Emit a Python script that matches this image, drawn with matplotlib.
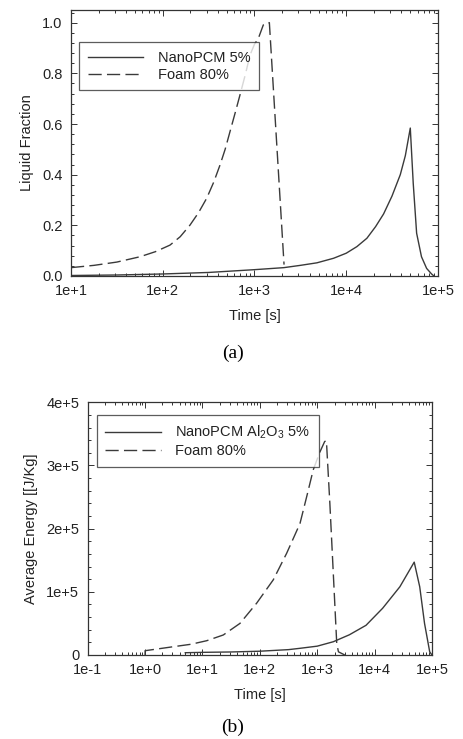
import numpy as np
import matplotlib
matplotlib.use("Agg")
import matplotlib.pyplot as plt
from matplotlib.ticker import FixedLocator, LogLocator, MultipleLocator, NullFormatter

plt.rcParams['font.family'] = ['Liberation Sans', 'DejaVu Sans']
plt.rcParams['mathtext.fontset'] = 'custom'
plt.rcParams['mathtext.rm'] = 'Liberation Sans'
plt.rcParams['mathtext.it'] = 'Liberation Sans'

# ---- (a) liquid fraction vs time (time given as log10 seconds) ----
nano_logt_a = [1.0, 1.5, 2.0, 2.5, 3.0, 3.32, 3.5, 3.68, 3.862, 4.0, 4.116, 4.225,
               4.32, 4.407, 4.498, 4.589, 4.644, 4.698, 4.73, 4.767, 4.82, 4.876,
               4.93, 4.956]
nano_lf_a = [0.002, 0.004, 0.008, 0.014, 0.025, 0.033, 0.042, 0.052, 0.070, 0.090,
             0.116, 0.149, 0.195, 0.245, 0.315, 0.400, 0.475, 0.584, 0.366, 0.169,
             0.076, 0.030, 0.008, 0.0]

foam_logt_a = [1.0, 1.25, 1.5, 1.752, 1.92, 2.079, 2.19, 2.297, 2.39, 2.479, 2.555,
               2.624, 2.68, 2.733, 2.79, 2.842, 2.90, 2.951, 3.0, 3.042, 3.096, 3.133,
               3.162, 3.322]
foam_lf_a = [0.033, 0.042, 0.055, 0.076, 0.096, 0.122, 0.155, 0.201, 0.250, 0.307,
             0.370, 0.438, 0.500, 0.570, 0.645, 0.715, 0.795, 0.872, 0.915, 0.938,
             0.991, 1.000, 1.000, 0.045]

xticks_a = [1e1, 1e2, 1e3, 1e4, 1e5]
xticklabels_a = ["1e+1", "1e+2", "1e+3", "1e+4", "1e+5"]
yticks_a = [0.0, 0.2, 0.4, 0.6, 0.8, 1.0]
yticklabels_a = ["0.0", "0.2", "0.4", "0.6", "0.8", "1.0"]

# ---- (b) average energy vs time (time given as log10 seconds) ----
nano_logt_b = [0.70, 1.0, 1.5, 2.0, 2.5, 2.70, 3.0, 3.28, 3.56, 3.85, 4.14, 4.44,
               4.69, 4.786, 4.87, 4.96, 5.0]
nano_e_b = [3.6e3, 4.2e3, 4.8e3, 6.0e3, 8.5e3, 1.06e4, 1.4e4, 2.1e4, 3.2e4, 4.7e4,
            7.4e4, 1.08e5, 1.47e5, 1.08e5, 5.0e4, 5.0e3, 0.0]

foam_logt_b = [0.0, 0.0, 0.49, 0.8, 1.073, 1.363, 1.653, 1.944, 2.234, 2.467, 2.699,
               2.82, 2.93, 3.04, 3.13, 3.16, 3.22, 3.34, 3.37, 3.48]
foam_e_b = [0.0, 6.8e3, 1.31e4, 1.7e4, 2.26e4, 3.17e4, 5.0e4, 8.2e4, 1.19e5, 1.61e5,
            2.08e5, 2.52e5, 2.93e5, 3.2e5, 3.38e5, 3.39e5, 2.4e5, 1.8e4, 5.0e3, 0.0]

xticks_b = [1e-1, 1e0, 1e1, 1e2, 1e3, 1e4, 1e5]
xticklabels_b = ["1e-1", "1e+0", "1e+1", "1e+2", "1e+3", "1e+4", "1e+5"]
yticks_b = [0, 1e5, 2e5, 3e5, 4e5]
yticklabels_b = ["0", "1e+5", "2e+5", "3e+5", "4e+5"]

W, H = 464, 739
fig = plt.figure(figsize=(W / 100, H / 100), dpi=100)

LINE_C = '#3a3a3a'
TEXT_C = '#222222'
DASH = (0, (9.5, 3.8))


def px_axes(left, top, right, bottom):
    return fig.add_axes([left / W, 1 - bottom / H, (right - left) / W, (bottom - top) / H])


def style(ax, xticks, xlabels, yticks, ylabels, yminor):
    ax.set_xscale('log')
    ax.xaxis.set_major_locator(FixedLocator(xticks))
    ax.set_xticklabels(xlabels)
    ax.xaxis.set_minor_locator(LogLocator(base=10, subs=np.arange(2, 10)))
    ax.xaxis.set_minor_formatter(NullFormatter())
    ax.set_yticks(yticks)
    ax.set_yticklabels(ylabels)
    ax.yaxis.set_minor_locator(MultipleLocator(yminor))
    ax.tick_params(which='both', direction='in', top=True, right=True,
                   colors='#333333', labelcolor=TEXT_C, labelsize=10.5, width=0.7)
    ax.tick_params(which='major', length=4, pad=6)
    ax.tick_params(which='minor', length=2.2)
    for s in ax.spines.values():
        s.set_color('#333333')
        s.set_linewidth(0.9)


def add_legend(ax, anchor):
    leg = ax.legend(loc='upper left', bbox_to_anchor=anchor,
                    frameon=True, fancybox=False, fontsize=10.5, handlelength=3.8,
                    handletextpad=1.0, borderpad=0.6, labelspacing=0.2,
                    borderaxespad=0)
    leg.get_frame().set_edgecolor('#333333')
    leg.get_frame().set_linewidth(0.9)
    for t in leg.get_texts():
        t.set_color(TEXT_C)
    return leg


# panel (a)
ax1 = px_axes(71, 10, 438, 276)
ax1.plot(10 ** np.array(nano_logt_a), nano_lf_a, color=LINE_C, lw=1.0, label='NanoPCM 5%')
ax1.plot(10 ** np.array(foam_logt_a), foam_lf_a, color=LINE_C, lw=1.0, linestyle=DASH,
         label='Foam 80%')
ax1.set_xlim(1e1, 1e5)
ax1.set_ylim(0, 1.05)
style(ax1, xticks_a, xticklabels_a, yticks_a, yticklabels_a, 0.04)
ax1.set_xlabel('Time [s]', fontsize=10.5, color=TEXT_C, labelpad=8)
ax1.set_ylabel('Liquid Fraction', fontsize=10.5, color=TEXT_C, labelpad=6)
add_legend(ax1, (8 / 367, 1 - 32 / 266))
fig.text(233 / W, 1 - 353 / H, '(a)', ha='center', va='center',
         fontsize=14, family='Liberation Serif', color='black')

# panel (b)
ax2 = px_axes(87.7, 402.3, 432, 655)
ax2.plot(10 ** np.array(nano_logt_b), nano_e_b, color=LINE_C, lw=1.0,
         label='NanoPCM Al$_2$O$_3$ 5%')
ax2.plot(10 ** np.array(foam_logt_b), foam_e_b, color=LINE_C, lw=1.0, linestyle=DASH,
         label='Foam 80%')
ax2.set_xlim(1e-1, 1e5)
ax2.set_ylim(0, 4e5)
style(ax2, xticks_b, xticklabels_b, yticks_b, yticklabels_b, 2e4)
ax2.set_xlabel('Time [s]', fontsize=10.5, color=TEXT_C, labelpad=8)
ax2.set_ylabel('Average Energy [[J/Kg]', fontsize=10.5, color=TEXT_C, labelpad=6)
add_legend(ax2, (9 / 344.3, 1 - 13 / 252.7))
fig.text(233 / W, 1 - 727 / H, '(b)', ha='center', va='center',
         fontsize=14, family='Liberation Serif', color='black')

fig.savefig('out.png', dpi=100)
